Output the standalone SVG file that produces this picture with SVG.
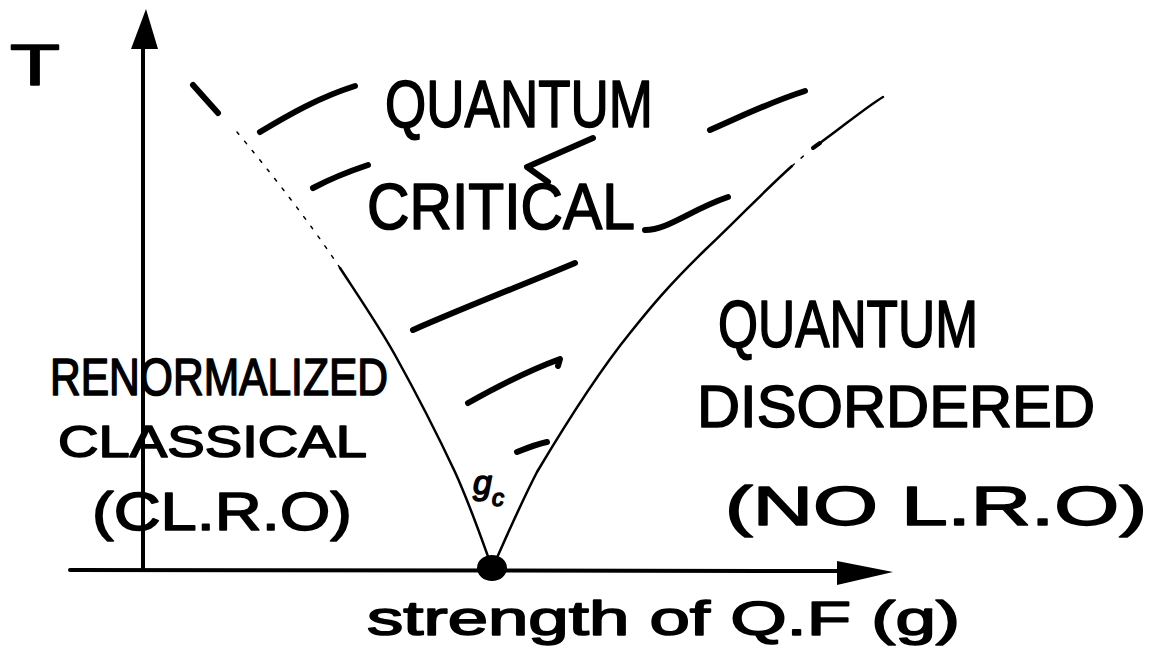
<svg xmlns="http://www.w3.org/2000/svg" width="1161" height="661" viewBox="0 0 1161 661">
<style>
text{font-family:"Liberation Sans","DejaVu Sans",sans-serif;fill:#000;stroke:#000;stroke-width:1.6;stroke-linejoin:round;}
.ink{fill:none;stroke:#000;stroke-linecap:round;stroke-linejoin:round;}
.hatch{stroke-width:6;}
.axis{stroke-width:4;}
.curve{stroke-width:2.5;}
.faint{stroke-width:1.5;stroke-dasharray:3 9;}
</style>
<rect width="1161" height="661" fill="#fff"/>
<g id="axes">
  <line class="ink axis" x1="143" y1="46" x2="143" y2="570"/>
  <polygon points="146,9 131,49 158,49" fill="#000"/>
  <line class="ink axis" x1="70" y1="570" x2="840" y2="571"/>
  <polygon points="893,572 837,561 837,585" fill="#000"/>
  <ellipse cx="492" cy="568" rx="15" ry="13" fill="#000"/>
</g>
<g id="boundaries">
  <path class="ink curve" d="M490,562 C482,540 470,505 455,472 C440,440 420,400 395,355 C380,328 365,306 340,268"/>
  <path class="ink faint" d="M340,268 C320,238 290,196 237,132"/>
  <path class="ink curve" d="M495,562 C505,540 520,505 537,472 C565,425 600,370 630,333 C650,308 668,286 705,250 C735,222 765,190 792,166"/>
  <path class="ink faint" d="M792,166 L808,152"/>
  <path class="ink" stroke-width="4" d="M813,148 L820,143"/>
  <path class="ink curve" d="M820,143 C845,125 865,108 883,97"/>
</g>
<g id="hatching">
  <path class="ink hatch" d="M193,85 L218,113"/>
  <path class="ink hatch" d="M260,132 C290,114 320,97 355,86"/>
  <path class="ink hatch" d="M710,130 C740,117 770,102 805,91"/>
  <path class="ink hatch" d="M593,138 L527,167 L548,182"/>
  <path class="ink hatch" d="M313,188 C330,179 350,171 368,165"/>
  <path class="ink hatch" d="M645,230 C668,230 690,210 728,197"/>
  <path class="ink hatch" d="M413,330 C470,305 530,282 575,263"/>
  <path class="ink hatch" d="M468,403 C500,385 530,370 560,359 L558,366"/>
  <path class="ink hatch" d="M517,452 C527,448 537,444 547,442"/>
</g>
<g id="labels">
  <text id="t-axis" x="10" y="85" font-size="58" textLength="50" lengthAdjust="spacingAndGlyphs">T</text>
  <text id="qc1" x="385" y="127" font-size="66" textLength="268" lengthAdjust="spacingAndGlyphs">QUANTUM</text>
  <text id="qc2" x="367" y="229" font-size="64" textLength="268" lengthAdjust="spacingAndGlyphs">CRITICAL</text>
  <text id="qd1" x="718" y="347" font-size="66" textLength="260" lengthAdjust="spacingAndGlyphs">QUANTUM</text>
  <text id="qd2" x="697" y="427" font-size="60" textLength="398" lengthAdjust="spacingAndGlyphs">DISORDERED</text>
  <text id="qd3" x="725" y="525" font-size="56" textLength="422" lengthAdjust="spacingAndGlyphs">(NO L.R.O)</text>
  <text id="rc1" x="50" y="395" font-size="52" textLength="338" lengthAdjust="spacingAndGlyphs">RENORMALIZED</text>
  <text id="rc2" x="58" y="457" font-size="45" textLength="309" lengthAdjust="spacingAndGlyphs">CLASSICAL</text>
  <text id="rc3" x="92" y="530" font-size="54" textLength="260" lengthAdjust="spacingAndGlyphs">(CL.R.O)</text>
  <text id="xlabel" x="367" y="635" font-size="48" textLength="593" lengthAdjust="spacingAndGlyphs">strength of Q.F (g)</text>
  <text id="gc" x="473" y="494" font-size="34" font-style="italic" stroke-width="0.8">g<tspan font-size="24" dy="12">c</tspan></text>
</g>
</svg>
